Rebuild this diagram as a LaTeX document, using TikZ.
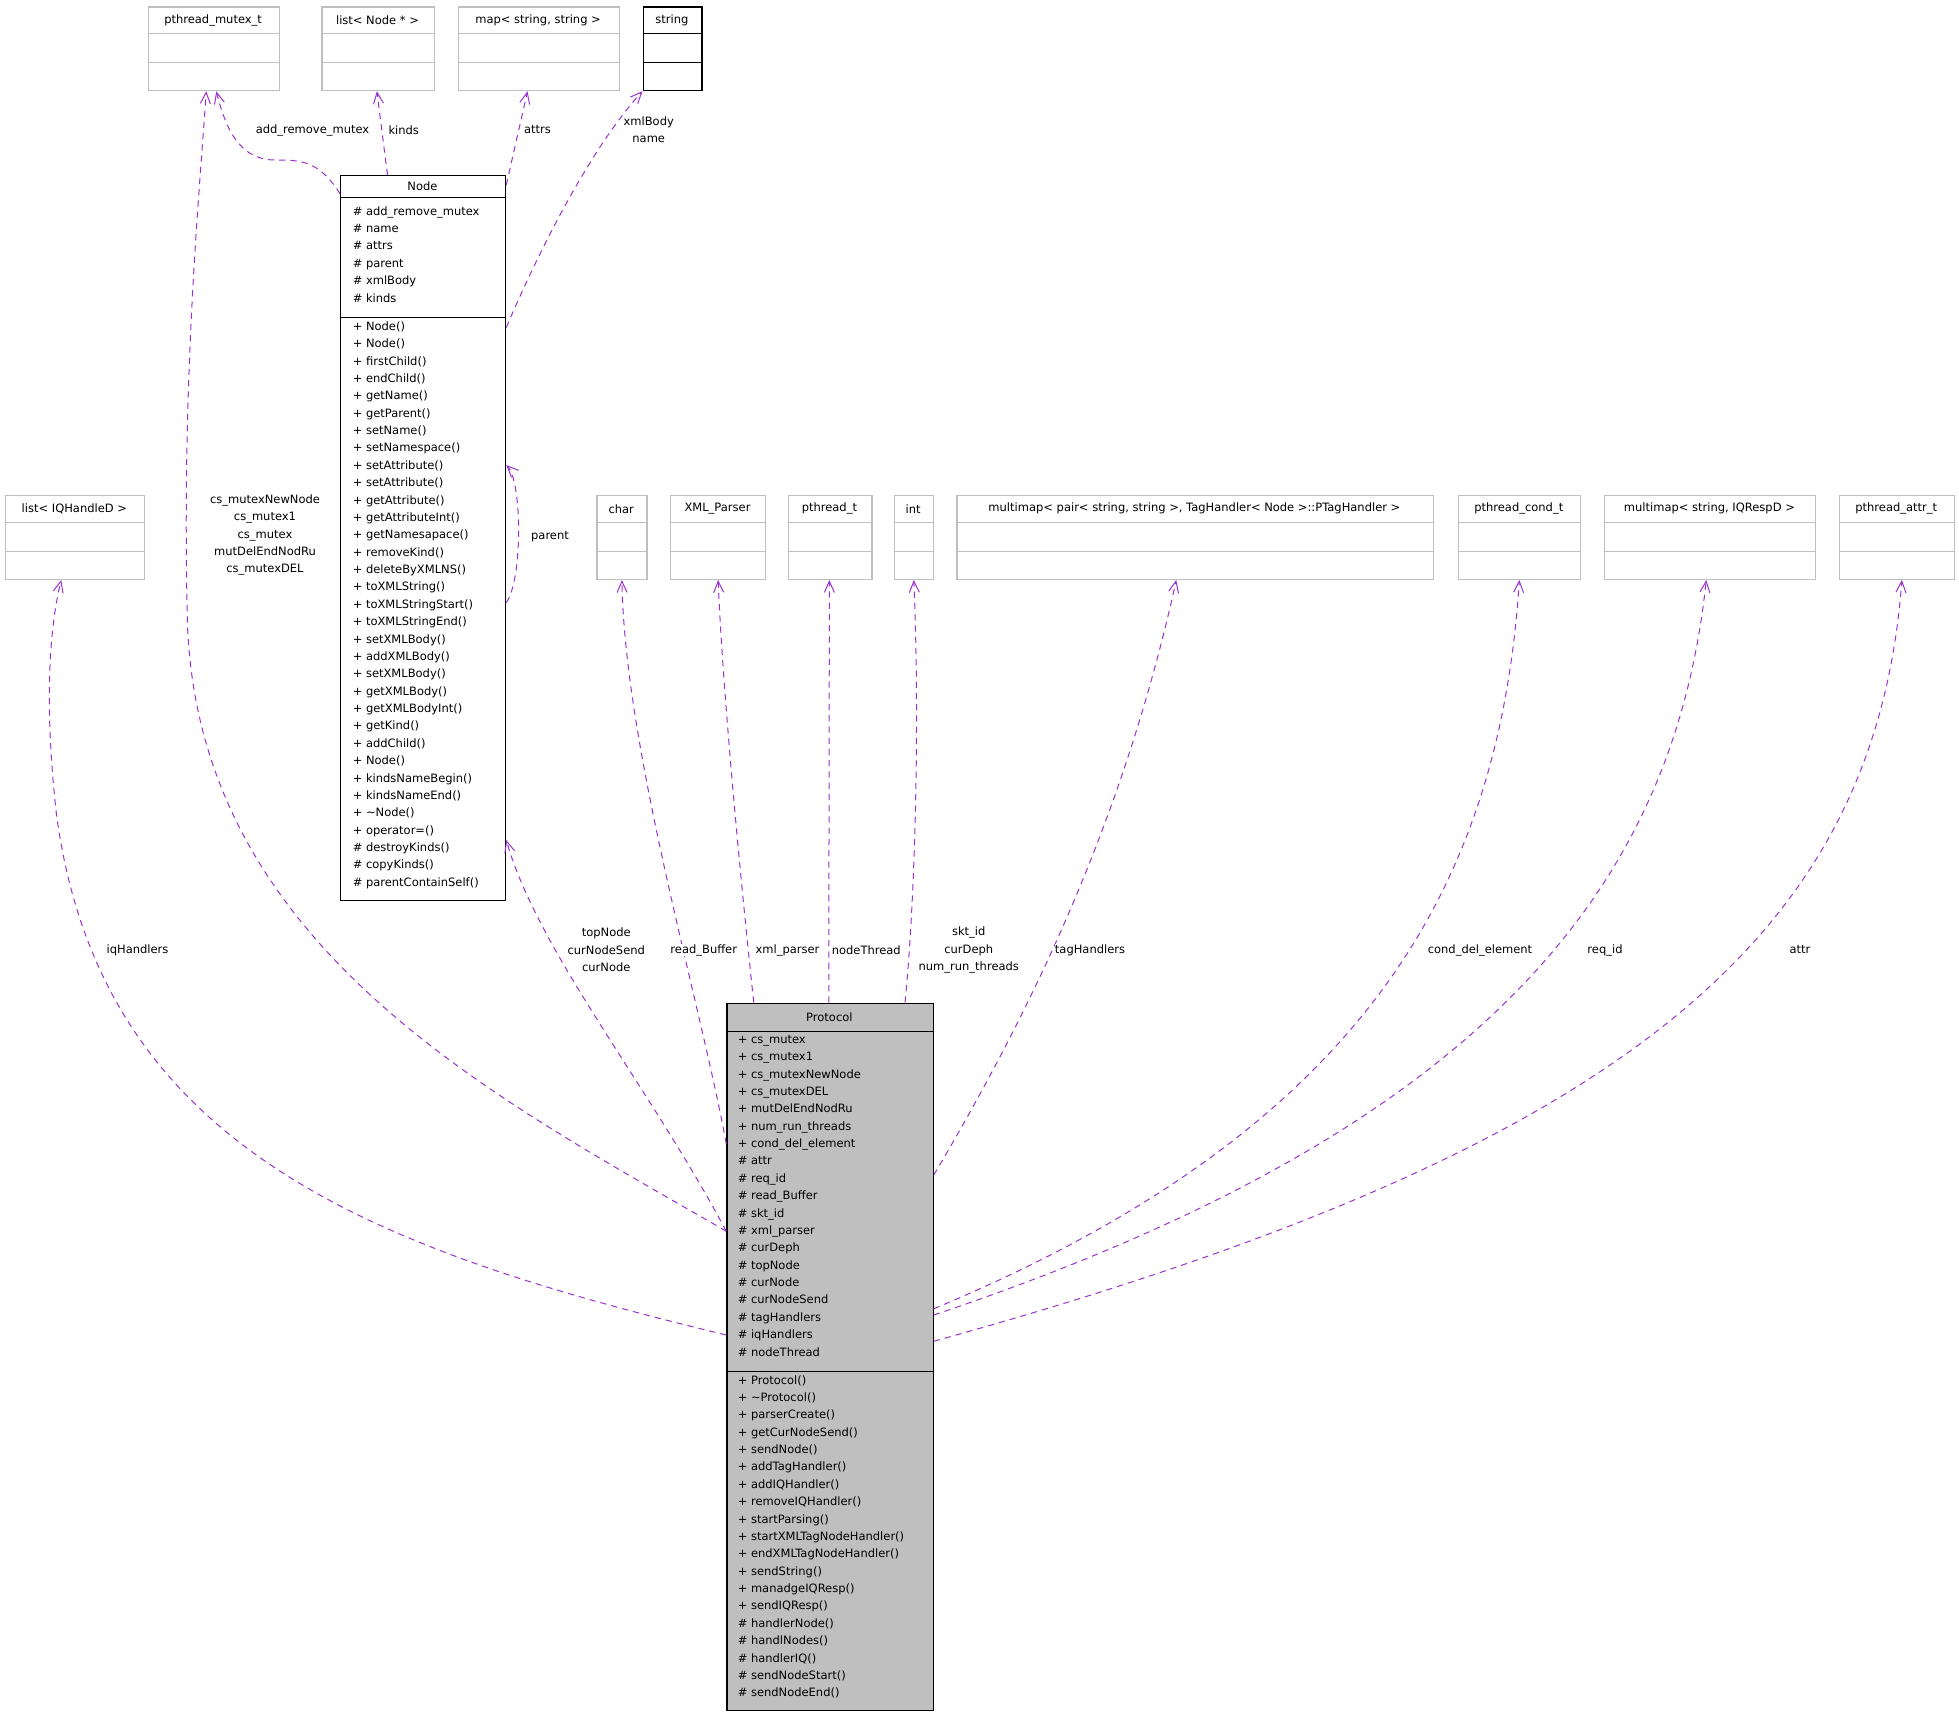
\documentclass[tikz,border=0pt]{standalone}
\usepackage{fontspec}
\setmainfont{DejaVu Sans}
\usetikzlibrary{arrows.meta,calc}
\definecolor{edge}{HTML}{9A32CD}
\definecolor{gbox}{HTML}{BFBFBF}
\definecolor{protofill}{HTML}{BFBFBF}
\newcommand{\txt}{\fontsize{9.2}{13.9}\selectfont}
\begin{document}
\begin{tikzpicture}[x=1pt,y=-1pt,
  box/.style={draw=gbox,line width=1pt,rectangle,inner sep=0pt,anchor=north west},
  dbox/.style={draw=black,line width=1pt,rectangle,inner sep=0pt,anchor=north west},
  ttl/.style={font=\txt,inner sep=0pt},
  mem/.style={font=\txt,inner sep=0pt,align=left,anchor=north west},
  lbl/.style={font=\txt,inner sep=0pt,align=center,fill=white},
  dep/.style={draw=edge,dashed,dash pattern=on 5pt off 4pt,line width=0.8pt,-{Straight Barb[length=9pt,width=8pt]}}]
\useasboundingbox (0,0) rectangle (1567.2,1373.6);
% empty class boxes: name, x1, x2, y1, title
\newcommand{\eclass}[7]{%
  \node[#7,minimum width=#3-#2,minimum height=67] (#1) at (#2,#4) {};
  \draw[#6] (#2,#4+22) -- (#3,#4+22) (#2,#4+45) -- (#3,#4+45);
  \node[ttl] at ({(#2+#3)/2},#4+11) {#5};}
\eclass{pm}{118}{223}{5}{pthread\_mutex\_t}{gbox,line width=1pt}{box}
\eclass{ln}{257}{347}{5}{list< Node * >}{gbox,line width=1pt}{box}
\eclass{mp}{366}{495}{5}{map< string, string >}{gbox,line width=1pt}{box}
\eclass{st}{514}{561}{5}{string}{black,line width=1pt}{dbox}
\eclass{li}{4}{115}{396}{list< IQHandleD >}{gbox,line width=1pt}{box}
\eclass{ch}{477}{517}{396}{char}{gbox,line width=1pt}{box}
\eclass{xp}{536}{612}{396}{XML\_Parser}{gbox,line width=1pt}{box}
\eclass{pt}{630}{697}{396}{pthread\_t}{gbox,line width=1pt}{box}
\eclass{in}{715}{746}{396}{int}{gbox,line width=1pt}{box}
\eclass{mm}{765}{1146}{396}{multimap< pair< string, string >, TagHandler< Node >::PTagHandler >}{gbox,line width=1pt}{box}
\eclass{pc}{1166}{1264}{396}{pthread\_cond\_t}{gbox,line width=1pt}{box}
\eclass{mi}{1283}{1452}{396}{multimap< string, IQRespD >}{gbox,line width=1pt}{box}
\eclass{pa}{1471}{1563}{396}{pthread\_attr\_t}{gbox,line width=1pt}{box}
% Node class
\node[dbox,minimum width=132,minimum height=580] (nd) at (272,140) {};
\draw[line width=1pt] (272,158) -- (404,158) (272,254) -- (404,254);
\node[ttl] at (338,149) {Node};
\node[mem] at (282,165) {\# add\_remove\_mutex\\\# name\\\# attrs\\\# parent\\\# xmlBody\\\# kinds};
\node[mem] at (282,257) {+ Node()\\+ Node()\\+ firstChild()\\+ endChild()\\+ getName()\\+ getParent()\\+ setName()\\+ setNamespace()\\+ setAttribute()\\+ setAttribute()\\+ getAttribute()\\+ getAttributeInt()\\+ getNamesapace()\\+ removeKind()\\+ deleteByXMLNS()\\+ toXMLString()\\+ toXMLStringStart()\\+ toXMLStringEnd()\\+ setXMLBody()\\+ addXMLBody()\\+ setXMLBody()\\+ getXMLBody()\\+ getXMLBodyInt()\\+ getKind()\\+ addChild()\\+ Node()\\+ kindsNameBegin()\\+ kindsNameEnd()\\+ \textasciitilde Node()\\+ operator=()\\\# destroyKinds()\\\# copyKinds()\\\# parentContainSelf()};
% Protocol class
\node[dbox,fill=protofill,minimum width=165,minimum height=566] (pr) at (581,802) {};
\draw[line width=1pt] (581,825) -- (746,825) (581,1097) -- (746,1097);
\node[ttl] at (663.5,813.5) {Protocol};
\node[mem] at (590,828) {+ cs\_mutex\\+ cs\_mutex1\\+ cs\_mutexNewNode\\+ cs\_mutexDEL\\+ mutDelEndNodRu\\+ num\_run\_threads\\+ cond\_del\_element\\\# attr\\\# req\_id\\\# read\_Buffer\\\# skt\_id\\\# xml\_parser\\\# curDeph\\\# topNode\\\# curNode\\\# curNodeSend\\\# tagHandlers\\\# iqHandlers\\\# nodeThread};
\node[mem] at (590,1100) {+ Protocol()\\+ \textasciitilde Protocol()\\+ parserCreate()\\+ getCurNodeSend()\\+ sendNode()\\+ addTagHandler()\\+ addIQHandler()\\+ removeIQHandler()\\+ startParsing()\\+ startXMLTagNodeHandler()\\+ endXMLTagNodeHandler()\\+ sendString()\\+ manadgeIQResp()\\+ sendIQResp()\\\# handlerNode()\\\# handlNodes()\\\# handlerIQ()\\\# sendNodeStart()\\\# sendNodeEnd()};
% Node dependencies
\draw[dep] ([yshift=-15pt]nd.north west) .. controls (255,128) and (240,128) .. (220,128) .. controls (190,128) and (180,100) .. ([xshift=2pt]pm.south);
\node[lbl] at (250,104) {add\_remove\_mutex};
\draw[dep] ([xshift=38pt]nd.north west) -- ([xshift=-1pt]ln.south);
\node[lbl] at (323,104) {kinds};
\draw[dep] ([yshift=-8pt]nd.north east) -- ([xshift=-9pt]mp.south);
\node[lbl] at (430,104) {attrs};
\draw[dep] ([yshift=-122pt]nd.north east) .. controls (440,180) and (480,110) .. (st.south west);
\node[lbl,fill=none] at (519,104) {xmlBody\\name};
\draw[dep] ([yshift=-342pt]nd.north east) .. controls (418,465) and (418,385) .. ([yshift=-232pt]nd.north east);
\node[lbl] at (440,429) {parent};
% Protocol dependencies
\draw[dep] ([yshift=-183pt]pr.north west) .. controls (400,880) and (160,760) .. (150,500) .. controls (145,300) and (160,150) .. ([xshift=-6pt]pm.south);
\node[lbl] at (212,428) {cs\_mutexNewNode\\cs\_mutex1\\cs\_mutex\\mutDelEndNodRu\\cs\_mutexDEL};
\draw[dep] ([yshift=-266pt]pr.north west) .. controls (300,1000) and (80,920) .. (45,650) .. controls (35,560) and (40,500) .. ([xshift=-11pt]li.south);
\node[lbl] at (110,760) {iqHandlers};
\draw[dep] ([yshift=-183pt]pr.north west) .. controls (520,870) and (430,760) .. ([yshift=-532pt]nd.north east);
\node[lbl] at (485,760) {topNode\\curNodeSend\\curNode};
\draw[dep] ([yshift=-113pt]pr.north west) .. controls (560,800) and (500,600) .. (ch.south);
\node[lbl] at (563,760) {read\_Buffer};
\draw[dep] ([xshift=22pt]pr.north west) .. controls (592,700) and (578,550) .. (xp.south);
\node[lbl] at (630,760) {xml\_parser};
\draw[dep] ([xshift=82pt]pr.north west) -- ([xshift=-0.5pt]pt.south);
\node[lbl] at (693,760) {nodeThread};
\draw[dep] ([xshift=143pt]pr.north west) .. controls (734,700) and (735,550) .. (in.south);
\node[lbl] at (775,760) {skt\_id\\curDeph\\num\_run\_threads};
\draw[dep] ([yshift=-138pt]pr.north east) .. controls (830,800) and (900,650) .. ([xshift=-15pt]mm.south);
\node[lbl] at (872,760) {tagHandlers};
\draw[dep] ([yshift=-245pt]pr.north east) .. controls (1100,900) and (1200,700) .. (pc.south);
\node[lbl] at (1184,760) {cond\_del\_element};
\draw[dep] ([yshift=-250pt]pr.north east) .. controls (1200,900) and (1340,700) .. ([xshift=-3pt]mi.south);
\node[lbl] at (1284,760) {req\_id};
\draw[dep] ([yshift=-271pt]pr.north east) .. controls (1300,920) and (1500,750) .. ([xshift=4pt]pa.south);
\node[lbl] at (1440,760) {attr};
\end{tikzpicture}
\end{document}
